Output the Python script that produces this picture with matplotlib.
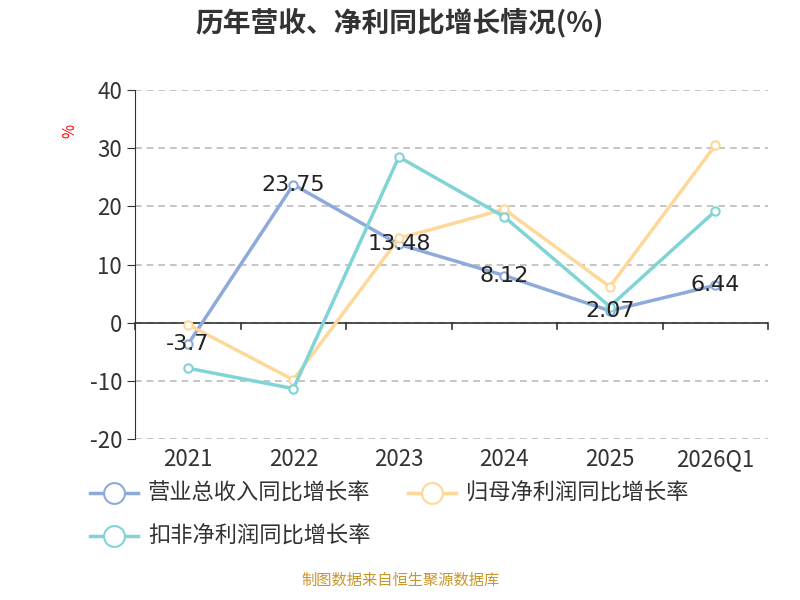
import matplotlib
matplotlib.use("Agg")
import matplotlib.pyplot as plt
from matplotlib.lines import Line2D

plt.rcParams['font.family'] = ['Noto Sans CJK SC', 'DejaVu Sans']

categories = ["2021", "2022", "2023", "2024", "2025", "2026Q1"]
revenue = [-3.7, 23.75, 13.48, 8.12, 2.07, 6.44]
net_profit = [-0.3, -9.8, 14.5, 19.5, 6.2, 30.5]
deducted = [-7.8, -11.3, 28.5, 18.2, 2.8, 19.2]
yticks = [-20, -10, 0, 10, 20, 30, 40]

c1, c2, c3 = "#8eaadb", "#fdd899", "#80d4d6"

fig = plt.figure(figsize=(8, 6), dpi=100)
ax = fig.add_axes([0.169, 0.268, 0.791, 0.582])
x = list(range(len(categories)))
for vals, c in [(revenue, c1), (net_profit, c2), (deducted, c3)]:
    ax.plot(x, vals, color=c, lw=2.5, marker='o', ms=6, mfc='white', mec=c, mew=1.5, zorder=3)
for xi, v in zip(x, revenue):
    ax.text(xi, v, f"{v:g}", ha='center', va='center', fontsize=16, color='#222', zorder=4,
            family=['DejaVu Sans'])

ax.set_xlim(-0.5, 5.5)
ax.set_ylim(-20, 40)
ax.set_yticks(yticks)
ax.set_yticklabels([str(t) for t in yticks], fontsize=16, color='#333')
ax.grid(axis='y', ls=(0, (4, 3)), color='#bbbbbb', lw=1.2)
for s in ['top', 'right', 'bottom']:
    ax.spines[s].set_visible(False)
ax.spines['left'].set_color('#333')
ax.axhline(0, color='#333', lw=1.2, zorder=2)
ax.tick_params(axis='y', length=6, color='#333')
ax.set_xticks([])
for i in range(7):
    ax.plot([i - 0.5, i - 0.5], [0, -1.0], color='#333', lw=1.2, clip_on=False)
for xi, c in zip(x, categories):
    ax.text(xi, -21.5, c, ha='center', va='top', fontsize=16, color='#333')
ax.text(-1.12, 33, "%", color='red', fontsize=11, rotation=90, ha='center', va='center')

fig.text(0.5, 0.963, "历年营收、净利同比增长情况(%)", ha='center', va='center', fontsize=20, fontweight='bold', color='#333')

def leg(xf, yf, c, label):
    fig.add_artist(Line2D([xf, xf + 0.06], [yf, yf], color=c, lw=2.5, transform=fig.transFigure))
    fig.add_artist(Line2D([xf + 0.03], [yf], color=c, marker='o', ms=15, mfc='white', mec=c, mew=1.5,
                          transform=fig.transFigure))
    fig.text(xf + 0.072, yf, label, fontsize=16, va='center', color='#333')

leg(0.113, 0.178, c1, "营业总收入同比增长率")
leg(0.51, 0.178, c2, "归母净利润同比增长率")
leg(0.113, 0.107, c3, "扣非净利润同比增长率")

fig.text(0.5, 0.018, "制图数据来自恒生聚源数据库", ha='center', va='bottom', fontsize=11, color='#c8962c')
fig.savefig("out.png")
